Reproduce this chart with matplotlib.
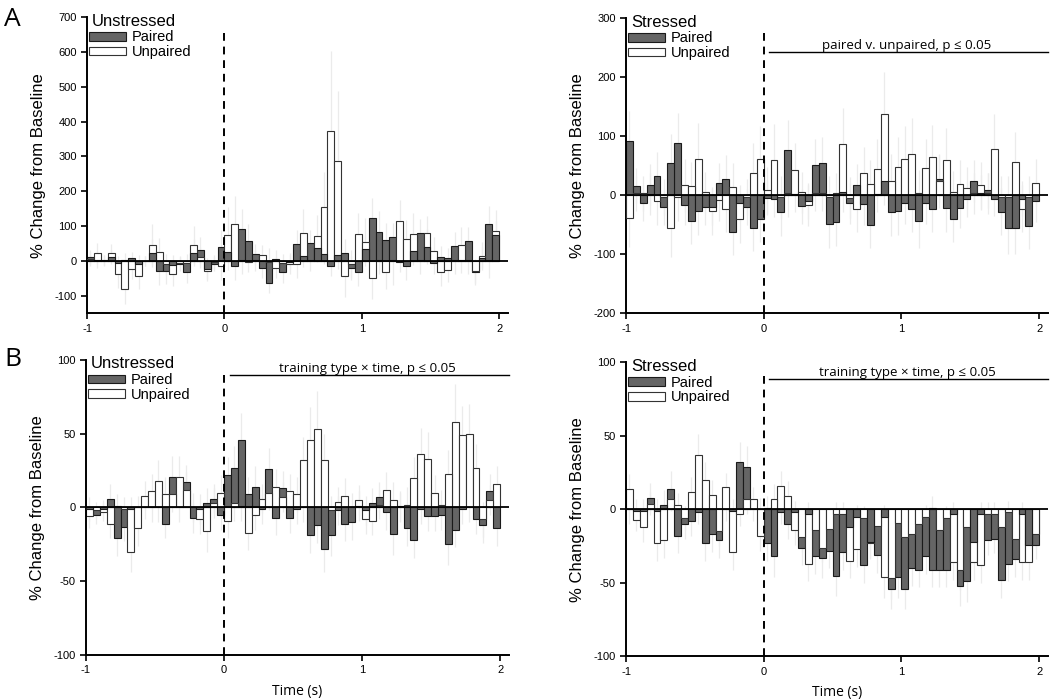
import numpy as np
import matplotlib
matplotlib.use('Agg')
import matplotlib.pyplot as plt
from matplotlib.patches import Patch

plt.rcParams['font.family'] = ['Liberation Sans', 'DejaVu Sans']
plt.rcParams['axes.unicode_minus'] = False

# time bins (s), 50 ms wide, from -1 to 2
bin_starts = np.arange(60) * 0.05 - 1.0

# ---- A, unstressed
al_paired = [12, 4, 3, 12, -5, 2, 7, -8, -1, 23, -28, -30, -12, -8, -32, 24, 30, -22, -8, 40,
             25, -16, 93, 57, 19, -19, -62, 5, -32, -3, 48, 13, 50, 36, 21, -14, 16, 22, -21, -33,
             33, 122, 82, 59, 68, -2, -16, 28, 81, 41, -7, 12, 8, 44, 4, 56, -33, 9, 107, 74]
al_unpaired = [6, 22, 1, 24, -38, -80, -22, -42, 0, 47, 25, -10, -38, -5, -5, 45, 10, -28, -4, -15,
               74, 105, 3, -3, 2, 16, -4, -19, -5, -8, -10, 79, 2, 71, 156, 372, 288, -44, -10, 77,
               54, -48, 3, -32, 2, 115, 62, 77, 3, 79, 28, -33, -26, 2, 47, 3, -29, 15, 2, 86]
al_err_p = [20, 25, 15, 20, 20, 20, 20, 25, 15, 40, 40, 35, 30, 20, 30, 40, 40, 30, 20, 50,
            50, 40, 55, 50, 30, 30, 30, 25, 30, 20, 40, 30, 40, 40, 30, 30, 40, 40, 35, 40,
            40, 60, 60, 50, 40, 30, 40, 40, 40, 50, 30, 30, 30, 40, 40, 40, 35, 30, 50, 40]
al_err_u = [20, 30, 15, 25, 40, 45, 30, 40, 15, 60, 40, 30, 35, 20, 25, 55, 30, 30, 20, 40,
            80, 80, 40, 30, 30, 30, 40, 30, 25, 30, 40, 70, 30, 60, 100, 230, 200, 60, 40, 60,
            70, 60, 40, 50, 70, 60, 55, 60, 40, 50, 40, 40, 35, 40, 50, 40, 35, 40, 50, 60]

# ---- A, stressed
ar_paired = [92, 16, -13, 18, 33, -20, 54, 89, -16, -43, -27, -20, -20, 20, 28, -62, -13, -20, -55, -40,
             -4, -7, -29, 77, 2, -19, -10, 51, 54, -49, -46, 6, -14, 18, -15, -50, 2, 24, -29, -27,
             -14, -23, -44, -14, -23, 28, -22, -40, -21, -7, 24, 4, 8, -6, -28, -55, -55, -6, -52, -10]
ar_unpaired = [-38, 3, 3, 2, -10, -3, -55, -3, 17, 16, 62, 5, -27, -8, -23, 14, -41, -3, 38, 62,
               8, 60, -3, 3, 43, 5, -17, 3, 3, -3, 3, 87, -4, -23, 37, 19, 45, 138, 24, 48,
               62, 70, 3, 46, 64, 24, 59, 6, 19, 12, 3, 17, 3, 78, -3, -3, 57, -23, -3, 21]
ar_err_p = [50, 30, 30, 35, 40, 30, 50, 50, 35, 40, 40, 30, 30, 35, 40, 40, 30, 30, 40, 40,
            30, 30, 40, 50, 30, 30, 30, 45, 45, 40, 40, 35, 35, 35, 35, 40, 30, 40, 40, 40,
            35, 40, 45, 35, 40, 40, 40, 40, 35, 30, 35, 30, 30, 30, 40, 45, 45, 30, 40, 35]
ar_err_u = [50, 30, 30, 35, 40, 30, 50, 40, 45, 40, 60, 35, 40, 35, 40, 40, 40, 30, 50, 55,
            40, 60, 35, 40, 45, 35, 35, 30, 30, 35, 35, 60, 35, 40, 45, 40, 50, 70, 45, 50,
            55, 60, 40, 50, 55, 45, 55, 35, 40, 35, 35, 40, 35, 60, 35, 35, 50, 40, 35, 40]

# ---- B, unstressed
bl_paired = [-1, -5, -1, 6, -21, -13, -1, 0, 0, 0, 0, -11, 21, 0, 17, -7, -1, 3, 6, -5,
             22, 27, 46, 9, 14, -1, 26, -7, 13, -7, -1, 0, -19, -12, -28, -19, -2, -11, -10, 1,
             -2, 3, 7, -3, -18, 1, -14, -22, -1, -6, -6, -5, -25, -15, -1, 0, -8, -12, 11, -14]
bl_unpaired = [-6, -2, -3, -11, 1, -1, -30, -14, 8, 11, 18, 9, 9, 21, 12, 0, -8, -16, 3, 10,
               -9, 3, 1, -17, -5, 6, 10, 14, 7, 11, 9, 32, 46, 53, 32, -2, 4, 8, 0, 5,
               -8, -9, 2, 12, 5, 0, 2, 20, 36, 33, 10, 2, 23, 58, 49, 50, 27, -8, 5, 16]
bl_err_p = [8, 6, 6, 10, 12, 10, 8, 8, 8, 10, 10, 10, 14, 10, 12, 10, 10, 10, 10, 10,
            12, 15, 18, 12, 14, 10, 14, 12, 12, 10, 10, 10, 12, 12, 16, 14, 10, 12, 12, 10,
            10, 10, 10, 12, 14, 10, 12, 12, 10, 10, 10, 10, 14, 12, 10, 10, 10, 12, 12, 12]
bl_err_u = [8, 6, 6, 10, 8, 8, 14, 12, 10, 12, 14, 12, 12, 14, 12, 10, 10, 14, 10, 12,
            12, 12, 10, 12, 10, 10, 12, 12, 10, 12, 12, 16, 22, 26, 18, 10, 10, 12, 10, 10,
            10, 10, 10, 12, 12, 10, 12, 14, 18, 18, 12, 10, 16, 26, 20, 20, 16, 12, 10, 12]

# ---- B, stressed
br_paired = [0, -1, -1, 8, -1, 3, 14, -18, -10, -8, -2, -23, -17, -21, 0, -1, 32, 29, 0, 0,
             -23, -32, -2, -10, -2, -26, -3, -32, -33, -28, -45, -29, -12, -5, -38, -22, -31, -5, -54, -46,
             -54, -40, -41, -32, -41, -41, -41, -3, -52, -49, -22, -3, -21, -20, -48, -37, -34, -3, -24, -24]
br_unpaired = [14, -7, -12, 4, -23, -21, 7, 3, -6, 12, 37, 20, 10, -15, 15, -29, -3, 7, 7, -18,
               1, 7, 16, 9, -14, -19, -37, -14, -26, -13, -3, -3, -35, -27, -6, -23, -11, -46, -47, -9,
               -19, -17, -10, -5, 1, -14, -6, -36, -41, -12, -36, -38, -3, -3, -12, -2, -20, -36, -36, -17]
br_err_p = [10, 8, 8, 10, 8, 10, 12, 12, 10, 10, 8, 12, 12, 12, 8, 8, 14, 14, 8, 8,
            12, 14, 8, 10, 8, 12, 8, 12, 14, 12, 14, 12, 10, 8, 12, 12, 12, 8, 14, 14,
            14, 12, 12, 12, 12, 12, 12, 8, 14, 14, 10, 8, 10, 10, 12, 12, 12, 8, 12, 10]
br_err_u = [10, 8, 10, 8, 12, 12, 8, 8, 8, 10, 14, 12, 10, 10, 10, 12, 8, 10, 8, 10,
            8, 10, 10, 10, 10, 10, 12, 10, 10, 10, 8, 8, 12, 12, 8, 10, 10, 14, 14, 10,
            10, 10, 10, 8, 8, 10, 8, 12, 14, 10, 12, 12, 8, 8, 10, 8, 10, 12, 12, 10]

DARK = '#656565'
ERR = '#ebebeb'


def draw_panel(ax, paired, unpaired, err_p, err_u, ylim, yticks, title, sig_text, sig_y, dash_top):
    p = np.array(paired, float)
    u = np.array(unpaired, float)
    w = 0.05
    cx = bin_starts + w / 2
    # faint error lines behind the bars
    ax.vlines(cx, p - np.array(err_p), p + np.array(err_p), color=ERR, lw=0.9, zorder=1)
    ax.vlines(cx, u - np.array(err_u), u + np.array(err_u), color=ERR, lw=0.9, zorder=1)
    # larger bar of each bin goes underneath, smaller one on top
    p_big = np.abs(p) >= np.abs(u)
    ax.bar(bin_starts[p_big], p[p_big], w, align='edge', color=DARK, edgecolor='#1a1a1a', lw=0.8, zorder=2)
    ax.bar(bin_starts[~p_big], u[~p_big], w, align='edge', color='white', edgecolor='#333333', lw=0.8, zorder=2)
    ax.bar(bin_starts[p_big], u[p_big], w, align='edge', color='white', edgecolor='#333333', lw=0.8, zorder=3)
    ax.bar(bin_starts[~p_big], p[~p_big], w, align='edge', color=DARK, edgecolor='#1a1a1a', lw=0.8, zorder=3)

    ax.axhline(0, color='black', lw=1.3, zorder=4)
    ax.plot([0, 0], [ylim[0], dash_top], color='black', lw=1.4, ls=(0, (4, 3)), zorder=5)

    ax.set_xlim(-1.0, 2.065)
    ax.set_ylim(*ylim)
    ax.set_xticks([-1, 0, 1, 2])
    ax.set_xticklabels(['-1', '0', '1', '2'])
    ax.set_yticks(yticks)
    ax.tick_params(labelsize=8, length=4, width=1.2, direction='out')
    for s in ['top', 'right']:
        ax.spines[s].set_visible(False)
    for s in ['left', 'bottom']:
        ax.spines[s].set_linewidth(1.4)
    ax.set_ylabel('% Change from Baseline', fontsize=12, labelpad=6)

    ax.text(0.012, 1.012, title, transform=ax.transAxes, fontsize=12, va='top', ha='left')
    handles = [Patch(facecolor=DARK, edgecolor='#1a1a1a', lw=0.8),
               Patch(facecolor='white', edgecolor='#333333', lw=0.8)]
    ax.legend(handles, ['Paired', 'Unpaired'], loc='upper left', bbox_to_anchor=(0.005, 0.955),
              frameon=False, fontsize=10.5, handlelength=2.5, handleheight=0.55,
              handletextpad=0.4, labelspacing=0.05, borderpad=0, borderaxespad=0)

    if sig_text:
        ax.plot([0.04, 2.065], [sig_y, sig_y], color='black', lw=1.0, clip_on=False)
        ax.text(1.04, sig_y, sig_text, fontsize=9.5, ha='center', va='bottom',
                family=['Open Sans', 'DejaVu Sans'])


fig = plt.figure(figsize=(10.5, 6.99), dpi=100)
ax_al = fig.add_axes([0.0829, 0.552, 0.401, 0.4235])
ax_ar = fig.add_axes([0.5962, 0.552, 0.402, 0.422])
ax_bl = fig.add_axes([0.0819, 0.063, 0.403, 0.422])
ax_br = fig.add_axes([0.5962, 0.061, 0.402, 0.4205])

draw_panel(ax_al, al_paired, al_unpaired, al_err_p, al_err_u, (-150, 700),
           [-100, 0, 100, 200, 300, 400, 500, 600, 700], 'Unstressed', None, None, 657)
draw_panel(ax_ar, ar_paired, ar_unpaired, ar_err_p, ar_err_u, (-200, 300),
           [-200, -100, 0, 100, 200, 300], 'Stressed', 'paired v. unpaired, p \u2264 0.05', 243, 275)
draw_panel(ax_bl, bl_paired, bl_unpaired, bl_err_p, bl_err_u, (-100, 100),
           [-100, -50, 0, 50, 100], 'Unstressed', 'training type \u00d7 time, p \u2264 0.05', 90, 91)
draw_panel(ax_br, br_paired, br_unpaired, br_err_p, br_err_u, (-100, 100),
           [-100, -50, 0, 50, 100], 'Stressed', 'training type \u00d7 time, p \u2264 0.05', 89, 92)

for ax in (ax_bl, ax_br):
    ax.set_xlabel('Time (s)', fontsize=10, family=['Open Sans', 'DejaVu Sans'], labelpad=6)

fig.text(0.004, 0.972, 'A', fontsize=19, va='center', family=['Open Sans', 'DejaVu Sans'])
fig.text(0.004, 0.486, 'B', fontsize=19, va='center', family=['Open Sans', 'DejaVu Sans'])

fig.savefig('out.png', dpi=100)
